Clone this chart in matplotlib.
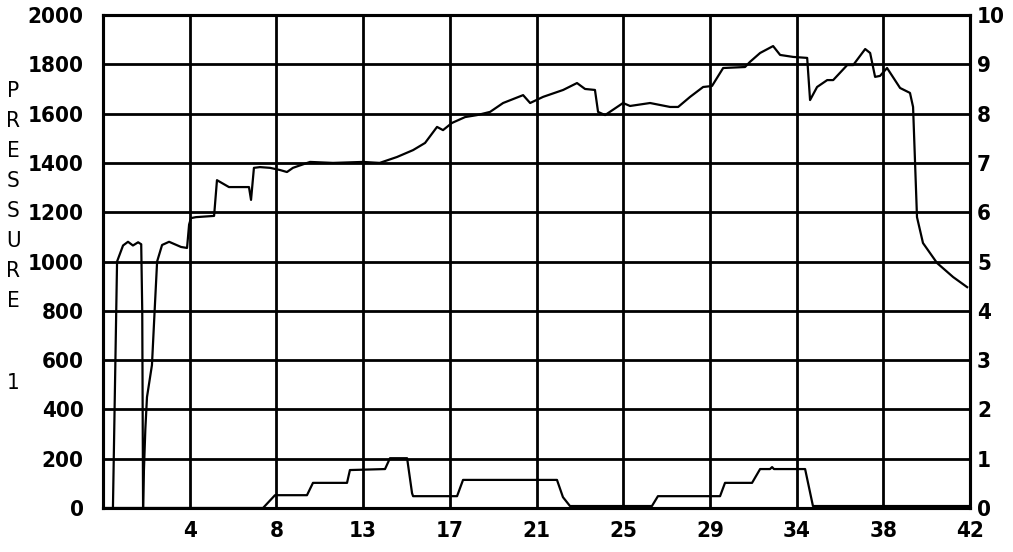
import matplotlib
matplotlib.use("Agg")
import matplotlib.pyplot as plt
from matplotlib import font_manager as fm

# pressure trace (left axis)
time_p = [0.48, 0.68, 0.97, 1.21, 1.45, 1.70, 1.85, 1.90, 1.94, 1.98, 2.05, 2.13,
          2.37, 2.50, 2.62, 2.86, 3.20, 3.78, 4.07, 4.17, 4.26, 4.50, 5.38, 5.52,
          6.10, 7.07, 7.17, 7.31, 7.60, 8.09, 8.58, 8.91, 9.20, 10.03, 11.14, 12.59,
          13.40, 14.24, 15.02, 15.60, 16.18, 16.47, 16.90, 17.54, 18.12, 18.75, 19.38,
          20.35, 20.69, 21.32, 22.29, 22.96, 23.35, 23.83, 23.98, 24.32, 25.19, 25.53,
          26.50, 27.47, 27.86, 28.44, 29.07, 29.50, 30.04, 31.10, 31.34, 31.83, 32.46,
          32.80, 33.43, 34.11, 34.25, 34.59, 35.08, 35.37, 36.05, 36.34, 36.92, 37.16,
          37.40, 37.64, 37.98, 38.61, 39.09, 39.24, 39.43, 39.72, 40.40, 41.18, 41.86]
pressure = [0, 1000, 1065, 1080, 1065, 1078, 1070, 800, 0, 150, 320, 450,
            580, 800, 1000, 1067, 1080, 1059, 1055, 1150, 1176, 1180, 1185, 1330,
            1302, 1302, 1250, 1380, 1383, 1380, 1371, 1363, 1380, 1404, 1400, 1404,
            1400, 1424, 1452, 1481, 1546, 1533, 1562, 1586, 1594, 1607, 1643,
            1675, 1643, 1668, 1696, 1724, 1700, 1696, 1607, 1594, 1643, 1631,
            1643, 1627, 1627, 1668, 1708, 1712, 1785, 1789, 1810, 1846, 1874,
            1838, 1830, 1826, 1655, 1708, 1736, 1736, 1797, 1797, 1862, 1846,
            1749, 1753, 1785, 1704, 1684, 1627, 1180, 1075, 994, 937, 896]

# lower trace (right axis)
time_r = [0.0, 7.75, 8.33, 9.88, 10.17, 11.82, 11.96, 13.66, 13.90, 14.73, 14.97,
          15.02, 17.15, 17.44, 21.99, 22.28, 22.62, 26.59, 26.88, 29.89, 30.13,
          31.44, 31.83, 32.31, 32.41, 32.50, 34.01, 34.39, 42.0]
rate = [0.0, 0.0, 0.26, 0.26, 0.51, 0.51, 0.77, 0.79, 1.01, 1.01, 0.30,
        0.24, 0.24, 0.57, 0.57, 0.22, 0.04, 0.04, 0.24, 0.24, 0.51,
        0.51, 0.79, 0.79, 0.83, 0.79, 0.79, 0.04, 0.04]

x_ticks = [4.2 * i for i in range(11)]
x_labels = [""] + [str(round(v)) for v in x_ticks[1:]]
left_ticks = list(range(0, 2001, 200))
right_ticks = list(range(0, 11))

narrow = fm.FontProperties(family="DejaVu Sans", stretch="condensed", weight="bold",
                           size=16)

fig = plt.figure(figsize=(10.13, 5.52), dpi=100)
ax = fig.add_axes([0.1017, 0.0797, 0.8559, 0.8931])
ax2 = ax.twinx()

ax.set_xlim(0, 42)
ax.set_ylim(0, 2000)
ax2.set_ylim(0, 10)

ax.set_xticks(x_ticks)
ax.set_xticklabels(x_labels)
ax.set_yticks(left_ticks)
ax2.set_yticks(right_ticks)

ax.grid(True, color="black", linewidth=2.0)
for sp in list(ax.spines.values()) + list(ax2.spines.values()):
    sp.set_linewidth(2.2)

ax.tick_params(length=0, pad=14)
ax.tick_params(axis="x", pad=9)
ax2.tick_params(length=0, pad=5)
for lab in ax.get_xticklabels() + ax.get_yticklabels() + ax2.get_yticklabels():
    lab.set_fontproperties(narrow)

ax.plot(time_p, pressure, color="black", linewidth=1.6)
ax2.plot(time_r, rate, color="black", linewidth=1.6)

# stacked vertical axis label
fig.text(0.013, 0.853, "P\nR\nE\nS\nS\nU\nR\nE", ha="center", va="top",
         fontsize=16, linespacing=1.62, fontstretch="condensed")
fig.text(0.013, 0.306, "1", ha="center", va="center", fontsize=16,
         fontstretch="condensed")

fig.savefig("out.png", dpi=100)
